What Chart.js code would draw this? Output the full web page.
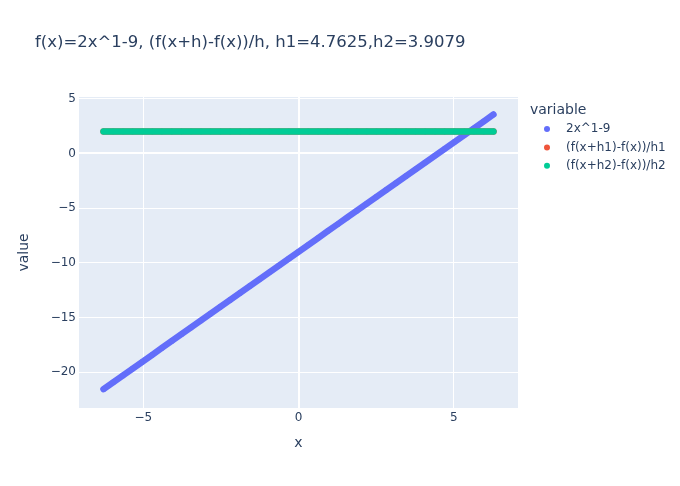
<!DOCTYPE html>
<html>
<head>
<meta charset="utf-8">
<script src="https://cdn.jsdelivr.net/npm/chart.js@4.4.1/dist/chart.umd.min.js"></script>
<style>
  html, body { margin: 0; padding: 0; background: #fff; }
  canvas { display: block; }
</style>
</head>
<body>
<canvas id="chart" width="680" height="486"></canvas>
<script>
// Data (x runs from about -2pi to 2pi)
const xValues = [-6.28, -5.97, -5.65, -5.34, -5.03, -4.71, -4.40, -4.08, -3.77, -3.46,
  -3.14, -2.83, -2.51, -2.20, -1.88, -1.57, -1.26, -0.94, -0.63, -0.31,
  0, 0.31, 0.63, 0.94, 1.26, 1.57, 1.88, 2.20, 2.51, 2.83,
  3.14, 3.46, 3.77, 4.08, 4.40, 4.71, 5.03, 5.34, 5.65, 5.97, 6.28];
const fValues = [-21.57, -20.94, -20.31, -19.68, -19.06, -18.42, -17.80, -17.16, -16.54, -15.92,
  -15.28, -14.66, -14.02, -13.40, -12.76, -12.14, -11.52, -10.88, -10.26, -9.62,
  -9, -8.38, -7.74, -7.12, -6.48, -5.86, -5.24, -4.60, -3.98, -3.34,
  -2.72, -2.08, -1.46, -0.84, -0.20, 0.42, 1.06, 1.68, 2.30, 2.94, 3.56];
const h1Values = [2, 2, 2, 2, 2, 2, 2, 2, 2, 2, 2, 2, 2, 2, 2, 2, 2, 2, 2, 2, 2,
  2, 2, 2, 2, 2, 2, 2, 2, 2, 2, 2, 2, 2, 2, 2, 2, 2, 2, 2, 2];
const h2Values = [2, 2, 2, 2, 2, 2, 2, 2, 2, 2, 2, 2, 2, 2, 2, 2, 2, 2, 2, 2, 2,
  2, 2, 2, 2, 2, 2, 2, 2, 2, 2, 2, 2, 2, 2, 2, 2, 2, 2, 2, 2];
const seriesNames = ["2x^1-9", "(f(x+h1)-f(x))/h1", "(f(x+h2)-f(x))/h2"];
const xTicks = [-5, 0, 5];
const yTicks = [5, 0, -5, -10, -15, -20];
const chartTitle = "f(x)=2x^1-9, (f(x+h)-f(x))/h, h1=4.7625,h2=3.9079";

const FONT = '"DejaVu Sans", verdana, arial, sans-serif';
const INK = '#2a3f5f';
Chart.defaults.font.family = FONT;
Chart.defaults.color = INK;

const toPoints = ys => xValues.map((x, i) => ({ x: x, y: ys[i] }));
const minus = v => v < 0 ? '\u2212' + Math.abs(v) : String(v);

function makeSet(name, ys, color, order) {
  return {
    label: name,
    data: toPoints(ys),
    showLine: true,
    borderColor: color,
    backgroundColor: color,
    borderWidth: 6.4,
    borderCapStyle: 'round',
    borderJoinStyle: 'round',
    pointRadius: 2.8,
    pointBorderWidth: 0,
    pointBackgroundColor: color,
    order: order
  };
}

// plot background, drawn under the grid
const plotBackground = {
  id: 'plotBackground',
  beforeDraw(chart) {
    const { ctx, chartArea: a } = chart;
    ctx.save();
    ctx.fillStyle = '#E5ECF6';
    ctx.fillRect(a.left, a.top, a.right - a.left, a.bottom - a.top);
    ctx.restore();
  }
};

// title, axis titles and the legend on the right
const textLayer = {
  id: 'textLayer',
  afterDraw(chart) {
    const { ctx, chartArea: a } = chart;
    ctx.save();
    ctx.fillStyle = INK;
    ctx.textBaseline = 'middle';

    ctx.font = '16.5px ' + FONT;
    ctx.textAlign = 'left';
    ctx.fillText(chartTitle, 35, 43);

    ctx.font = '14px ' + FONT;
    ctx.textAlign = 'center';
    ctx.fillText('x', (a.left + a.right) / 2, 443);
    ctx.save();
    ctx.translate(24, (a.top + a.bottom) / 2);
    ctx.rotate(-Math.PI / 2);
    ctx.fillText('value', 0, 0);
    ctx.restore();

    ctx.textAlign = 'left';
    ctx.fillText('variable', 530, 110);
    ctx.font = '12px ' + FONT;
    chart.data.datasets.forEach((ds, i) => {
      const y = 129 + i * 18.4;
      ctx.fillStyle = ds.backgroundColor;
      ctx.beginPath();
      ctx.arc(547, y, 3, 0, Math.PI * 2);
      ctx.fill();
      ctx.fillStyle = INK;
      ctx.fillText(ds.label, 566, y);
    });
    ctx.restore();
  }
};

new Chart(document.getElementById('chart'), {
  type: 'scatter',
  data: {
    datasets: [
      makeSet(seriesNames[0], fValues, '#636efa', 2),
      makeSet(seriesNames[1], h1Values, '#EF553B', 1),
      makeSet(seriesNames[2], h2Values, '#00cc96', 0)
    ]
  },
  options: {
    responsive: false,
    animation: false,
    devicePixelRatio: 1,
    layout: { padding: { top: 97, right: 162, bottom: 0, left: 0 } },
    plugins: {
      legend: { display: false },
      tooltip: { enabled: false }
    },
    scales: {
      x: {
        type: 'linear',
        min: -7.07,
        max: 7.07,
        afterBuildTicks: s => { s.ticks = xTicks.map(v => ({ value: v })); },
        afterFit: s => { s.height = 78; },
        border: { display: false },
        grid: {
          color: '#ffffff',
          lineWidth: c => c.tick && c.tick.value === 0 ? 2 : 1,
          drawTicks: false
        },
        ticks: { padding: 3, font: { size: 12 }, color: INK, callback: minus, maxRotation: 0 }
      },
      y: {
        type: 'linear',
        min: -23.29,
        max: 5.16,
        afterBuildTicks: s => { s.ticks = yTicks.map(v => ({ value: v })); },
        afterFit: s => { s.width = 79; },
        border: { display: false },
        grid: {
          color: '#ffffff',
          lineWidth: c => c.tick && c.tick.value === 0 ? 2 : 1,
          drawTicks: false
        },
        ticks: { padding: 3, font: { size: 12 }, color: INK, callback: minus }
      }
    }
  },
  plugins: [plotBackground, textLayer]
});
</script>
</body>
</html>
